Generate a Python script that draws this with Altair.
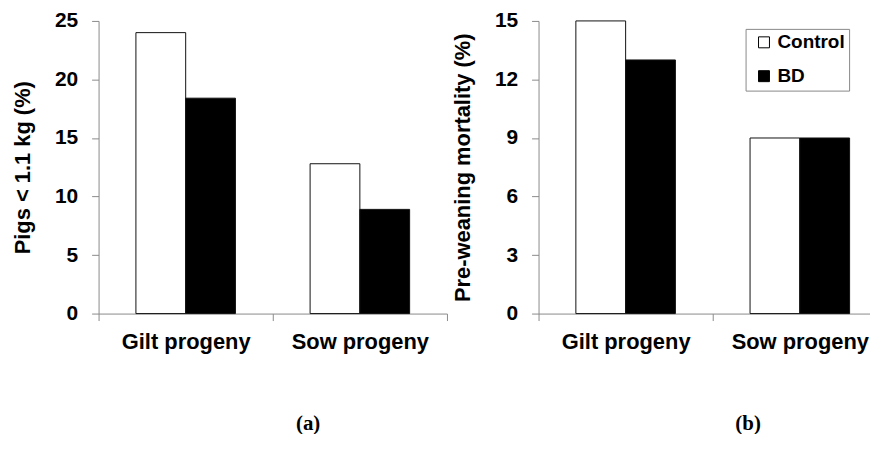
import altair as alt
import pandas as pd

groups = ["Gilt progeny", "Sow progeny"]
treatments = ["Control", "BD"]
# order: gilt-control, gilt-BD, sow-control, sow-BD
light_pigs = [24.0, 18.4, 12.8, 8.9]
mortality = [15.0, 13.0, 9.0, 9.0]
ticks_a = [0, 5, 10, 15, 20, 25]
ticks_b = [0, 3, 6, 9, 12, 15]

SANS = "Liberation Sans"
SERIF = "Liberation Serif"
AXIS_GRAY = "#8a8a8a"


def panel(values, ytitle, ticks, letter, show_legend, title_pad):
    df = pd.DataFrame({
        "group": [g for g in groups for t in treatments],
        "treatment": [t for g in groups for t in treatments],
        "value": values,
    })
    if show_legend:
        legend = alt.Legend(
            title=" ", titleOrient="left", titleFont=SANS, titleFontSize=19,
            titlePadding=5,
            orient="none", legendX=208, legendY=8,
            symbolType="square", symbolSize=121, symbolStrokeColor="#000",
            symbolStrokeWidth=1, labelFont=SANS, labelFontSize=19,
            labelFontWeight="bold", labelColor="#000", labelOffset=4,
            labelExpr="datum.label + '  '",
            padding=4, rowPadding=14, strokeColor="#888", fillColor="#fff",
        )
    else:
        legend = None
    fill = alt.Fill(
        "treatment:N", sort=treatments,
        scale=alt.Scale(domain=treatments, range=["#ffffff", "#000000"]),
        legend=legend,
    )
    return alt.Chart(df).mark_bar(stroke="#111", strokeWidth=1).encode(
        x=alt.X(
            "group:N", sort=groups,
            scale=alt.Scale(paddingInner=0, paddingOuter=0),
            axis=alt.Axis(
                title=letter, labelAngle=0, tickBand="extent", tickSize=7,
                domainColor=AXIS_GRAY, tickColor=AXIS_GRAY,
                labelFont=SANS, labelFontSize=22, labelFontWeight="bold",
                labelColor="#000", labelPadding=11,
                titleFont=SERIF, titleFontSize=21, titleFontWeight="bold",
                titleColor="#000", titleX=210, titleY=110,
                titleAlign="center", titleBaseline="middle",
            ),
        ),
        xOffset=alt.XOffset(
            "treatment:N", sort=treatments,
            scale=alt.Scale(paddingInner=0, paddingOuter=0.75),
        ),
        y=alt.Y(
            "value:Q",
            scale=alt.Scale(domain=[ticks[0], ticks[-1]], nice=False),
            axis=alt.Axis(
                title=ytitle, values=ticks, grid=False, tickSize=7,
                domainColor=AXIS_GRAY, tickColor=AXIS_GRAY,
                labelFont=SANS, labelFontSize=21, labelFontWeight="bold",
                labelColor="#000", labelPadding=14,
                titleFont=SANS, titleFontSize=22, titleFontWeight="bold",
                titleColor="#000", titlePadding=title_pad,
            ),
        ),
        fill=fill,
    ).properties(width=350, height=294)


left = panel(light_pigs, "Pigs < 1.1 kg (%)", ticks_a, "(a)", False, 20)
right = panel(mortality, "Pre-weaning mortality (%)", ticks_b, "(b)", True, 20)

chart = (
    alt.hconcat(left, right, spacing=3)
    .resolve_scale(fill="independent", y="independent", x="independent")
    .configure_view(stroke=None)
    .properties(padding={"left": 3, "top": 1, "right": -18, "bottom": 0})
)

chart.save("out.html", embed_options={"renderer": "svg", "actions": False})
